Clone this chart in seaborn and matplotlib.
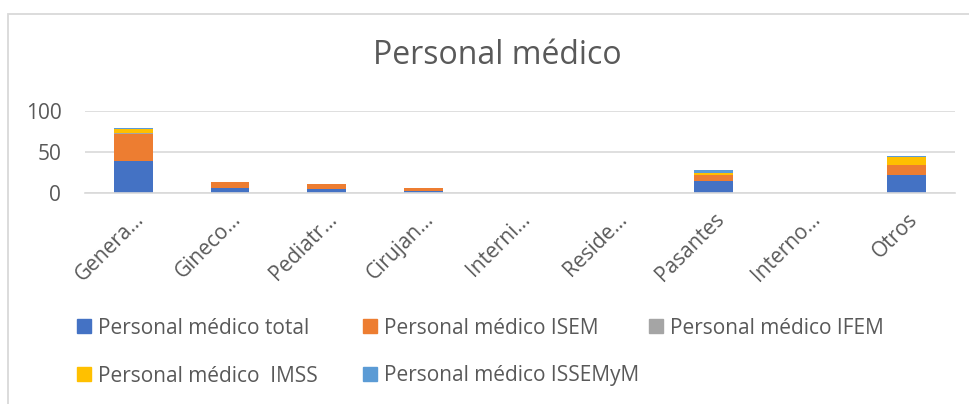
import numpy as np
import pandas as pd
import matplotlib
matplotlib.use("Agg")
import matplotlib.pyplot as plt
import seaborn as sns
from matplotlib.patches import Rectangle, Patch

categories = ["Genera…", "Gineco…", "Pediatr…", "Cirujan…", "Interni…",
              "Reside…", "Pasantes", "Interno…", "Otros"]
total = [39, 6, 5, 3, 0, 0, 15, 0, 22]
isem = [33, 8, 6, 4, 0, 0, 7, 0, 12]
ifem = [1, 0, 0, 0, 0, 0, 0, 0, 0]
imss = [5, 0, 0, 0, 0, 0, 3, 0, 10]
issemym = [2, 0, 0, 0, 0, 0, 4, 0, 1]

series = ["Personal médico total", "Personal médico ISEM", "Personal médico IFEM",
          "Personal médico  IMSS", "Personal médico ISSEMyM"]
colors = ["#4472C4", "#ED7D31", "#A5A5A5", "#FFC000", "#5B9BD5"]

sns.set_style("white")
plt.rcParams["font.family"] = ["Open Sans", "DejaVu Sans"]

vals = np.array([total, isem, ifem, imss, issemym], dtype=float)
cum = vals.cumsum(axis=0)

fig = plt.figure(figsize=(9.7, 4.04), dpi=100)
ax = fig.add_axes([0.0876, 0.5215, 0.897, 0.203])

# stacked bars: draw cumulative heights from top series down
for i in range(len(series) - 1, -1, -1):
    df = pd.DataFrame({"cat": categories, "val": cum[i]})
    sns.barplot(data=df, x="cat", y="val", color=colors[i], width=0.4,
                saturation=1, ax=ax, edgecolor="none", linewidth=0)

ax.set_ylim(0, 100)
ax.set_yticks([0, 50, 100])
ax.set_xlim(-0.5, len(categories) - 0.5)
ax.yaxis.grid(True, color="#D9D9D9", linewidth=1.2)
ax.set_axisbelow(True)
for s in ["top", "right", "left"]:
    ax.spines[s].set_visible(False)
ax.spines["bottom"].set_color("#D9D9D9")
ax.spines["bottom"].set_linewidth(1.2)
ax.set_xlabel("")
ax.set_ylabel("")
ax.tick_params(axis="both", length=0, labelsize=15, labelcolor="#595959")
ax.tick_params(axis="y", pad=17)
ax.tick_params(axis="x", pad=11)
ax.set_xticks(range(len(categories)))
ax.set_xticklabels(categories, rotation=45, ha="right", rotation_mode="anchor")

fig.text(0.513, 0.862, "Personal médico", ha="center", va="center",
         fontsize=23, color="#595959")

# legend laid out like Excel: equal-width columns, row-major order
col_x = [77 / 970, 363 / 970, 649 / 970]
row_y = [1 - 328 / 404, 1 - 376 / 404]
for k, (lab, c) in enumerate(zip(series, colors)):
    leg = fig.legend([Patch(color=c)], [lab], loc="center left",
                     bbox_to_anchor=(col_x[k % 3], row_y[k // 3]),
                     frameon=False, fontsize=15, labelcolor="#595959",
                     handlelength=0.65, handleheight=0.65, handletextpad=0.35,
                     borderpad=0, borderaxespad=0)

fig.patches.append(Rectangle((8.5 / 970, -0.05), 1.1, 1 - 13.5 / 404 + 0.05,
                             transform=fig.transFigure, fill=False,
                             edgecolor="#D9D9D9", linewidth=1.3))

fig.savefig("out.png", dpi=100)
